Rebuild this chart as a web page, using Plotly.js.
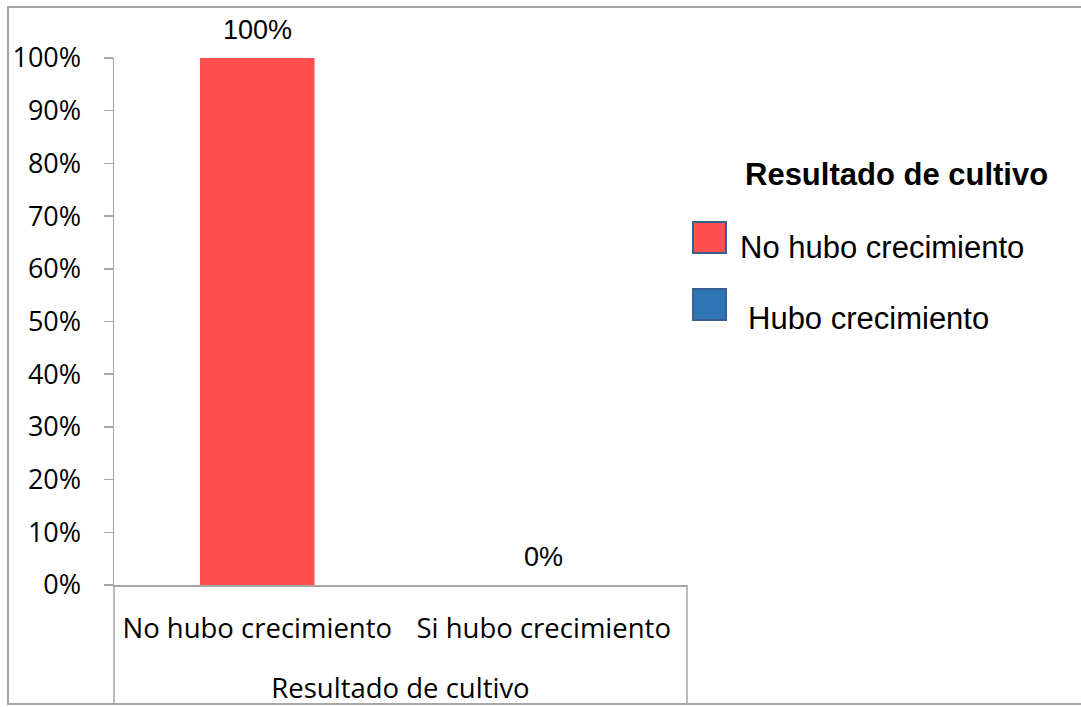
<!DOCTYPE html>
<html>
<head>
<meta charset="utf-8">
<script src="https://cdn.plot.ly/plotly-3.0.1.min.js"></script>
<style>
  html, body { margin: 0; padding: 0; background: #ffffff; }
  #chart { width: 1081px; height: 707px; }
</style>
</head>
<body>
<div id="chart"></div>
<script>
// Culture result: share of samples with / without growth
const categories = ['No hubo crecimiento', 'Si hubo crecimiento'];
const seriesNames = ['No hubo crecimiento', 'Hubo crecimiento'];
const shares = [1.00, 0.00];
const seriesColors = ['#FF5050', '#2E75B6'];
const yTickValues = [0, 0.1, 0.2, 0.3, 0.4, 0.5, 0.6, 0.7, 0.8, 0.9, 1.0];
const yTickLabels = ['0%', '10%', '20%', '30%', '40%', '50%', '60%', '70%', '80%', '90%', '100%'];
const axisTitle = 'Resultado de cultivo';
const legendTitle = 'Resultado de cultivo';

const gridGrey = '#A6A6A6';
const arial = 'Liberation Sans, Arial, sans-serif';
const labelFont = 'Open Sans, sans-serif';
const pct = v => Math.round(v * 100) + '%';

// one bar per category, each its own series so it keeps its own colour
const traces = categories.map((cat, i) => ({
  type: 'bar',
  x: [cat],
  y: [shares[i]],
  name: seriesNames[i],
  width: 0.4,
  marker: { color: seriesColors[i], line: { width: 0 } },
  showlegend: false,
  hoverinfo: 'skip'
}));

// plot area in pixels: x 114..687, y 58..585
const plotL = 114, plotR = 687, plotT = 58, plotB = 585;
const pw = plotR - plotL, ph = plotB - plotT;
const px = x => (x - plotL) / pw;
const py = y => (plotB - y) / ph;

const shapes = [
  // outer chart frame
  { type: 'rect', xref: 'paper', yref: 'paper',
    x0: px(8), x1: px(1090), y0: py(704), y1: py(7),
    line: { color: gridGrey, width: 2 }, fillcolor: 'rgba(0,0,0,0)', layer: 'below' },
  // category-label dividers under the axis
  { type: 'line', xref: 'paper', yref: 'paper',
    x0: 0, x1: 0, y0: 0, y1: py(704), line: { color: gridGrey, width: 1.5 } },
  { type: 'line', xref: 'paper', yref: 'paper',
    x0: 1, x1: 1, y0: 0, y1: py(704), line: { color: gridGrey, width: 1.5 } }
];

// value labels sit above each bar top
const annotations = categories.map((cat, i) => ({
  xref: 'x', yref: 'y', x: cat, y: shares[i],
  xanchor: 'center', yanchor: 'middle', yshift: 28, showarrow: false,
  text: pct(shares[i]),
  font: { family: arial, size: 27, color: '#000000' }
}));

annotations.push({ xref: 'paper', yref: 'paper', x: px(896), y: py(174),
  xanchor: 'center', yanchor: 'middle', showarrow: false,
  text: '<b>' + legendTitle + '</b>',
  font: { family: arial, size: 31, color: '#000000' } });

// legend swatches and labels
const swatchTop = [222, 289];
const labelX = [738, 746];
const labelY = [248, 318];
seriesNames.forEach((name, i) => {
  shapes.push({ type: 'rect', xref: 'paper', yref: 'paper',
    x0: px(693), x1: px(726), y0: py(swatchTop[i] + 31), y1: py(swatchTop[i]),
    line: { color: '#3B5E91', width: 2 }, fillcolor: seriesColors[i] });
  annotations.push({ xref: 'paper', yref: 'paper', x: px(labelX[i]), y: py(labelY[i]),
    xanchor: 'left', yanchor: 'middle', showarrow: false, text: name,
    font: { family: arial, size: 31, color: '#000000' } });
});

const layout = {
  width: 1081,
  height: 707,
  margin: { l: plotL, r: 1081 - plotR, t: plotT, b: 707 - plotB, pad: 0 },
  paper_bgcolor: '#ffffff',
  plot_bgcolor: '#ffffff',
  barmode: 'overlay',
  showlegend: false,
  xaxis: {
    type: 'category',
    categoryorder: 'array',
    categoryarray: categories,
    range: [-0.5, 1.5],
    showline: true,
    linecolor: gridGrey,
    linewidth: 1.5,
    showgrid: false,
    zeroline: false,
    ticks: '',
    ticklabelstandoff: 18,
    tickfont: { family: labelFont, size: 27.5, color: '#000000' },
    title: { text: axisTitle, standoff: 34,
             font: { family: labelFont, size: 27.5, color: '#000000' } },
    fixedrange: true
  },
  yaxis: {
    range: [0, 1],
    tickvals: yTickValues,
    ticktext: yTickLabels,
    ticks: 'outside',
    ticklen: 9,
    tickwidth: 1.5,
    tickcolor: gridGrey,
    showline: true,
    linecolor: gridGrey,
    linewidth: 1.5,
    showgrid: false,
    zeroline: false,
    ticklabelstandoff: 17,
    tickfont: { family: labelFont, size: 27, color: '#000000' },
    fixedrange: true
  },
  shapes: shapes,
  annotations: annotations
};

Plotly.newPlot('chart', traces, layout, { displayModeBar: false, staticPlot: true });
</script>
</body>
</html>
